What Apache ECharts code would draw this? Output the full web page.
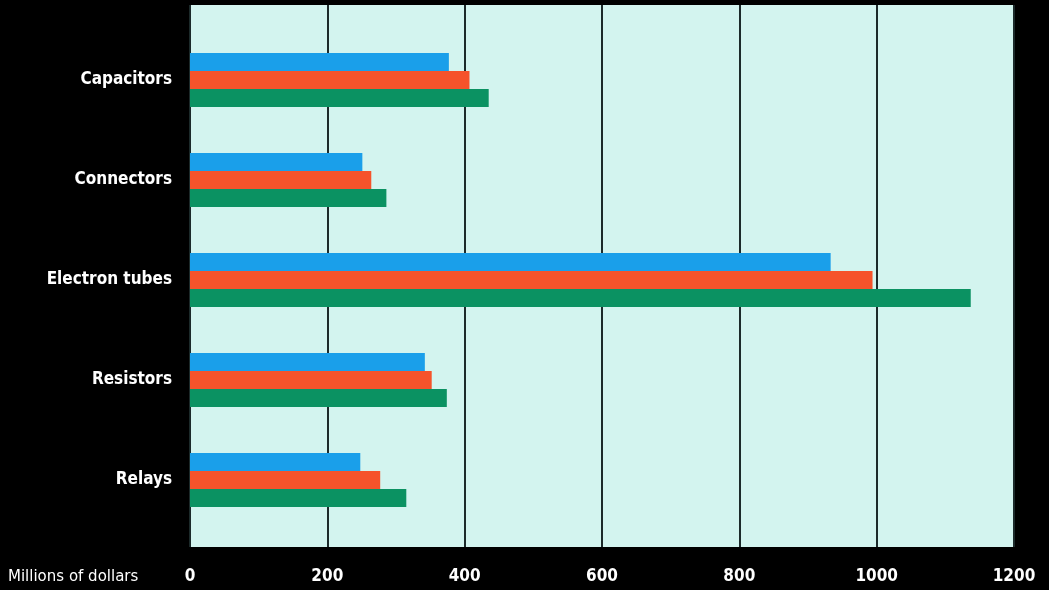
<!DOCTYPE html>
<html>

<head>
    <meta charset="utf-8">
    <script type="text/javascript" src="https://cdn.jsdelivr.net/npm/echarts@6/dist/echarts.min.js"></script>
    <title>ECharts</title>
    <style>
        body { margin: 0; background: #000; }
    </style>
</head>

<body>
    <div id="container" style="width:1049px;height:590px;"></div>
    <script type="text/javascript">
    // 数据
    var categories = ['Capacitors', 'Connectors', 'Electron tubes', 'Resistors', 'Relays'];
    var blueValues = [377, 251, 933, 342, 248];
    var redValues = [407, 264, 994, 352, 277];
    var greenValues = [435, 286, 1137, 374, 315];
    var xTicks = [0, 200, 400, 600, 800, 1000, 1200];

    var myChart = echarts.init(document.getElementById('container'));

    var labelFont = '"DejaVu Sans Condensed", "Liberation Sans Narrow", "Liberation Sans", sans-serif';

    var option = {
        backgroundColor: '#000000',
        animation: false,
        grid: [{
            // 背景和网格线
            left: 190, right: 35, top: 5, bottom: 43,
            show: true,
            backgroundColor: '#d3f4ef',
            borderWidth: 0
        }, {
            // 柱子
            left: 190, right: 35, top: 30, bottom: 60
        }],
        graphic: [{
            type: 'text',
            left: 8,
            top: 570,
            style: {
                text: 'Millions of dollars',
                fill: '#ffffff',
                font: '15px "DejaVu Sans", "Liberation Sans", sans-serif'
            }
        }],
        xAxis: [{
            gridIndex: 0,
            type: 'value',
            min: xTicks[0],
            max: xTicks[xTicks.length - 1],
            interval: 200,
            axisLine: { show: false },
            axisTick: { show: false },
            splitLine: { lineStyle: { color: '#1c2a2a', width: 2 } },
            axisLabel: {
                color: '#ffffff',
                fontFamily: labelFont,
                fontWeight: 'bold',
                fontSize: 17,
                margin: 21,
                formatter: function (v) { return String(v); }
            }
        }, {
            gridIndex: 1,
            type: 'value',
            min: xTicks[0],
            max: xTicks[xTicks.length - 1],
            show: false
        }],
        yAxis: [{
            gridIndex: 0,
            type: 'value',
            show: false
        }, {
            gridIndex: 1,
            type: 'category',
            data: categories,
            inverse: true,
            axisLine: { show: false },
            axisTick: { show: false },
            axisLabel: {
                color: '#ffffff',
                fontFamily: labelFont,
                fontWeight: 'bold',
                fontSize: 17,
                margin: 18
            }
        }],
        series: [{
            name: 'blue',
            type: 'bar',
            xAxisIndex: 1,
            yAxisIndex: 1,
            barWidth: 18,
            barGap: '0%',
            itemStyle: { color: '#1a9fea' },
            data: blueValues
        }, {
            name: 'red',
            type: 'bar',
            xAxisIndex: 1,
            yAxisIndex: 1,
            barWidth: 18,
            barGap: '0%',
            itemStyle: { color: '#f6532b' },
            data: redValues
        }, {
            name: 'green',
            type: 'bar',
            xAxisIndex: 1,
            yAxisIndex: 1,
            barWidth: 18,
            barGap: '0%',
            itemStyle: { color: '#0b9262' },
            data: greenValues
        }]
    };

    myChart.setOption(option);
    </script>
</body>

</html>
